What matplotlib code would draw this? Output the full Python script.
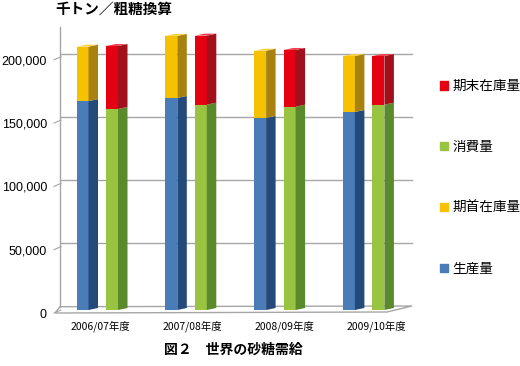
import matplotlib
matplotlib.use("Agg")
import matplotlib.pyplot as plt
from matplotlib.patches import Polygon, Patch
from matplotlib.transforms import ScaledTranslation
import numpy as np

plt.rcParams['font.family'] = ['Noto Sans CJK JP', 'DejaVu Sans']

# ---- data (千トン -> values in t) ----
years = ['2006/07年度', '2007/08年度', '2008/09年度', '2009/10年度']
production = [165000, 167500, 151700, 156400]       # 生産量
beginning_stock = [43000, 49000, 53100, 44200]      # 期首在庫量
consumption = [158800, 162200, 160600, 162200]      # 消費量
ending_stock = [49700, 54500, 44800, 38400]         # 期末在庫量
yticks = [0, 50000, 100000, 150000, 200000]
title = '千トン／粗糖換算'
caption = '図２　世界の砂糖需給'

# ---- style ----
C = {
    'prod': ('#4a7cb8', '#244a7a', '#6d98cc'),
    'beg': ('#f5c100', '#a8820f', '#f8d246'),
    'cons': ('#98c441', '#5b8a2c', '#b2d46e'),
    'end': ('#e50012', '#a0111b', '#ee4050'),
}
W, H = 520, 366
fig = plt.figure(figsize=(W / 100, H / 100), dpi=100)

# pixel-based layout helpers
px_per_unit = 88.8          # px per category
x0_px = 97.25               # px of first group centre
px_per_val = 1.266 / 1000   # px per tonne
y0_px = 310                 # px of zero for bars
xl_px, xr_px = 50, 415
ylo, yhi = -8000, 224000
ax_left = xl_px / W
ax_w = (xr_px - xl_px) / W
bot_px = y0_px - ylo * px_per_val
top_px = y0_px - yhi * px_per_val
ax = fig.add_axes([ax_left, (H - bot_px) / H, ax_w, (bot_px - top_px) / H])
ax.set_xlim((xl_px - x0_px) / px_per_unit, (xr_px - x0_px) / px_per_unit)
ax.set_ylim(ylo, yhi)
for s in ax.spines.values():
    s.set_visible(False)

def px2x(p):
    return (p - x0_px) / px_per_unit

def px2dy(p):
    return p / px_per_val

bw = 12 / px_per_unit          # front width
ddx = 9.5 / px_per_unit        # depth x
ddy = px2dy(2.0)               # depth y
off = 14.75 / px_per_unit
back = px2dy(3.3)              # back wall offset

# back wall gridlines
gx0, gx1 = px2x(61), px2x(412)
for v in yticks[1:]:
    ax.plot([gx0, gx1], [v + back, v + back], color='#a6a6a6', lw=1.0, zorder=1)
# left wall line
ax.plot([px2x(60), px2x(60)], [back, px2dy(y0_px - 27)], color='#a6a6a6', lw=1.0, zorder=1)
# floor
floor = [(px2x(55), -px2dy(3)), (px2x(387), -px2dy(2)), (px2x(412), px2dy(4)), (px2x(60), back)]
ax.add_patch(Polygon(floor, closed=True, fill=False, edgecolor='#a6a6a6', lw=1.0, zorder=1, clip_on=False))
# slanted ticks
for v in yticks:
    ax.plot([px2x(54), px2x(61)], [v - px2dy(3), v + px2dy(0)], color='#a6a6a6', lw=0.8, zorder=1, clip_on=False)

def bar3d(xc, segs):
    bottom = 0
    for val, key in segs:
        front, side, topc = C[key]
        ax.bar(xc, val, width=bw, bottom=bottom, color=front, linewidth=0, zorder=3)
        x1 = xc + bw / 2
        ax.add_patch(Polygon([(x1, bottom), (x1 + ddx, bottom + ddy), (x1 + ddx, bottom + val + ddy),
                              (x1, bottom + val)], closed=True, facecolor=side, lw=0, zorder=3))
        bottom += val
    topc = C[segs[-1][1]][2]
    xa = xc - bw / 2
    ax.add_patch(Polygon([(xa, bottom), (xa + ddx, bottom + ddy), (xa + bw + ddx, bottom + ddy),
                          (xa + bw, bottom)], closed=True, facecolor=topc, lw=0, zorder=3))

xs = np.arange(len(years))
for i in xs:
    bar3d(i - off, [(production[i], 'prod'), (beginning_stock[i], 'beg')])
    bar3d(i + off, [(consumption[i], 'cons'), (ending_stock[i], 'end')])

# y tick labels (front plane)
ax.set_yticks(yticks)
ax.set_yticklabels([f'{v:,}' for v in yticks], family=['Liberation Sans', 'DejaVu Sans'], fontsize=9)
ax.tick_params(axis='y', length=0, pad=0)
for lab in ax.get_yticklabels():
    lab.set_transform(lab.get_transform() + ScaledTranslation(-3 / 100, -3 / 100, fig.dpi_scale_trans))

# x tick labels
lab_px = [100, 192, 284, 376.5]
ax.set_xticks([px2x(p) for p in lab_px])
ax.set_xticklabels(years, fontsize=7.5)
ax.tick_params(axis='x', length=0, pad=0)

# title & caption
fig.text(55 / W, 1 - 9 / H, title, fontsize=10.5, fontweight='bold', va='center', ha='left')
fig.text(233 / W, 1 - 350 / H, caption, fontsize=10, fontweight='bold', va='center', ha='center')

# legend
handles = [Patch(color=C['end'][0]), Patch(color=C['cons'][0]), Patch(color=C['beg'][0]), Patch(color=C['prod'][0])]
labels = ['期末在庫量', '消費量', '期首在庫量', '生産量']
fig.legend(handles, labels, loc='upper left', bbox_to_anchor=(440 / W, 1 - 79 / H),
           frameon=False, fontsize=9.8, borderpad=0, handlelength=0.6, handleheight=0.6,
           handletextpad=0.3, labelspacing=3.45, borderaxespad=0)

fig.savefig('out.png', dpi=100)
